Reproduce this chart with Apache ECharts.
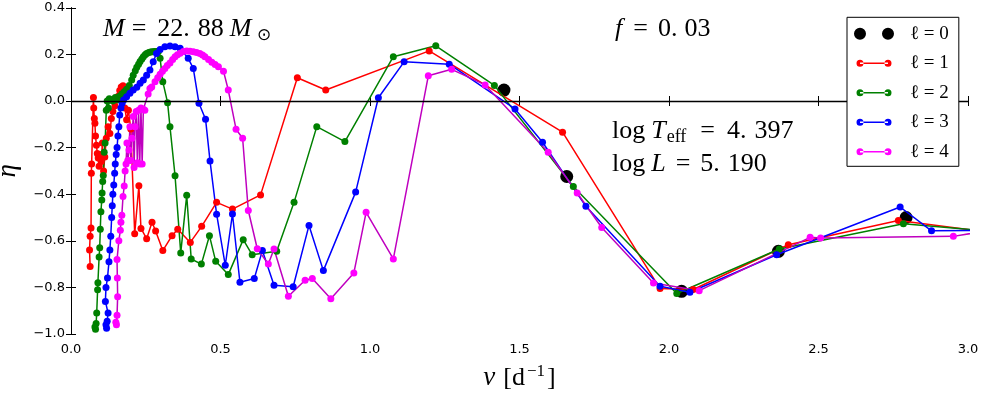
<!DOCTYPE html>
<html>
<head>
<meta charset="utf-8">
<script src="https://cdn.jsdelivr.net/npm/echarts@6/dist/echarts.min.js"></script>
<style>
html,body{margin:0;padding:0;background:#fff;}
#chart{width:981px;height:394px;}
</style>
</head>
<body>
<div id="chart"></div>
<script>
// ---- data: [nu (1/d), eta] ----
const l0 = [[1.448,0.047],[1.658,-0.324],[2.042,-0.817],[2.366,-0.645],[2.793,-0.50]];

const l1 = [[0.064,-0.71],[0.062,-0.64],[0.064,-0.58],[0.067,-0.545],[0.068,-0.31],[0.069,-0.27],[0.075,0.015],[0.076,-0.03],[0.078,-0.075],[0.080,-0.095],[0.082,-0.15],[0.085,-0.19],[0.088,-0.225],[0.091,-0.245],[0.094,-0.28],[0.097,-0.23],[0.101,-0.26],[0.105,-0.18],[0.109,-0.3],[0.113,-0.24],[0.118,-0.16],[0.124,-0.11],[0.130,-0.14],[0.135,-0.075],[0.140,-0.045],[0.147,-0.02],[0.152,0.005],[0.158,0.02],[0.163,0.045],[0.168,0.06],[0.174,0.065],[0.180,-0.03],[0.186,-0.08],[0.192,-0.04],[0.200,-0.12],[0.213,-0.57],[0.227,-0.364],[0.234,-0.547],[0.253,-0.591],[0.271,-0.52],[0.283,-0.558],[0.307,-0.642],[0.338,-0.578],[0.357,-0.55],[0.399,-0.607],[0.437,-0.538],[0.487,-0.435],[0.540,-0.464],[0.634,-0.403],[0.757,0.10],[0.852,0.047],[1.198,0.215],[1.644,-0.134],[1.970,-0.805],[2.081,-0.809],[2.399,-0.617],[2.767,-0.513],[3.05,-0.56]];

const l2 = [[0.080,-0.97],[0.082,-0.98],[0.084,-0.955],[0.086,-0.91],[0.089,-0.81],[0.090,-0.78],[0.094,-0.67],[0.096,-0.63],[0.098,-0.55],[0.100,-0.475],[0.103,-0.425],[0.104,-0.395],[0.106,-0.345],[0.108,-0.32],[0.111,-0.22],[0.114,-0.18],[0.118,-0.04],[0.121,0.0],[0.125,-0.03],[0.128,0.01],[0.133,0.005],[0.140,0.0],[0.148,0.015],[0.155,0.005],[0.162,0.02],[0.170,0.03],[0.178,0.04],[0.186,0.05],[0.195,0.066],[0.203,0.09],[0.208,0.11],[0.215,0.13],[0.220,0.145],[0.226,0.158],[0.231,0.17],[0.237,0.18],[0.242,0.19],[0.248,0.198],[0.253,0.204],[0.260,0.208],[0.266,0.21],[0.272,0.211],[0.279,0.212],[0.285,0.212],[0.292,0.211],[0.298,0.183],[0.307,0.083],[0.323,-0.007],[0.331,-0.11],[0.348,-0.321],[0.367,-0.652],[0.387,-0.405],[0.402,-0.678],[0.436,-0.70],[0.463,-0.578],[0.484,-0.688],[0.526,-0.745],[0.576,-0.595],[0.606,-0.66],[0.688,-0.645],[0.746,-0.435],[0.822,-0.11],[0.916,-0.174],[1.078,0.19],[1.220,0.237],[1.416,0.067],[1.680,-0.367],[2.026,-0.826],[2.369,-0.635],[2.784,-0.527],[3.05,-0.556]];

const l3 = [[0.117,-0.96],[0.119,-0.975],[0.121,-0.945],[0.124,-0.91],[0.115,-0.86],[0.117,-0.80],[0.122,-0.76],[0.127,-0.69],[0.130,-0.64],[0.133,-0.58],[0.136,-0.50],[0.138,-0.45],[0.140,-0.40],[0.143,-0.36],[0.146,-0.31],[0.148,-0.27],[0.151,-0.23],[0.154,-0.20],[0.157,-0.15],[0.160,-0.11],[0.163,-0.06],[0.167,-0.03],[0.171,-0.01],[0.176,0.004],[0.186,0.018],[0.197,0.033],[0.208,0.047],[0.220,0.059],[0.231,0.076],[0.242,0.09],[0.253,0.111],[0.264,0.133],[0.275,0.168],[0.286,0.204],[0.298,0.221],[0.314,0.233],[0.331,0.236],[0.348,0.233],[0.365,0.226],[0.392,0.183],[0.409,0.14],[0.428,-0.01],[0.450,-0.078],[0.465,-0.258],[0.487,-0.486],[0.516,-0.705],[0.540,-0.485],[0.565,-0.778],[0.613,-0.762],[0.640,-0.642],[0.679,-0.791],[0.743,-0.797],[0.796,-0.534],[0.844,-0.728],[0.952,-0.391],[1.028,0.014],[1.114,0.168],[1.265,0.158],[1.485,-0.034],[1.577,-0.177],[1.722,-0.452],[1.970,-0.795],[2.070,-0.821],[2.360,-0.66],[2.773,-0.455],[2.878,-0.557],[3.05,-0.555]];

const l4 = [[0.150,-0.95],[0.152,-0.96],[0.154,-0.92],[0.156,-0.84],[0.155,-0.76],[0.154,-0.68],[0.160,-0.60],[0.165,-0.555],[0.167,-0.52],[0.170,-0.49],[0.174,-0.41],[0.178,-0.365],[0.181,-0.30],[0.184,-0.27],[0.187,-0.18],[0.190,-0.255],[0.194,-0.21],[0.197,-0.11],[0.200,-0.255],[0.204,-0.16],[0.208,-0.067],[0.211,-0.285],[0.214,-0.11],[0.218,-0.045],[0.222,-0.265],[0.226,-0.04],[0.230,-0.27],[0.234,-0.03],[0.238,-0.27],[0.242,-0.035],[0.247,-0.04],[0.258,0.03],[0.264,0.054],[0.270,0.06],[0.281,0.083],[0.290,0.10],[0.298,0.115],[0.306,0.128],[0.314,0.14],[0.322,0.152],[0.331,0.163],[0.340,0.178],[0.348,0.19],[0.356,0.198],[0.365,0.205],[0.376,0.212],[0.387,0.215],[0.398,0.214],[0.409,0.211],[0.420,0.208],[0.431,0.204],[0.440,0.197],[0.448,0.19],[0.460,0.178],[0.471,0.166],[0.482,0.157],[0.493,0.147],[0.510,0.128],[0.526,0.047],[0.552,-0.121],[0.574,-0.16],[0.593,-0.47],[0.623,-0.634],[0.660,-0.70],[0.679,-0.635],[0.727,-0.838],[0.783,-0.769],[0.807,-0.762],[0.869,-0.849],[0.946,-0.738],[0.987,-0.478],[1.078,-0.678],[1.195,0.108],[1.273,0.136],[1.385,0.069],[1.596,-0.22],[1.693,-0.395],[1.775,-0.543],[1.948,-0.781],[2.101,-0.814],[2.472,-0.585],[2.507,-0.588],[2.951,-0.581],[3.05,-0.56]];

const seriesNames = ['ℓ = 0','ℓ = 1','ℓ = 2','ℓ = 3','ℓ = 4'];
const xTicks = {min: 0, max: 3, step: 0.5};
const yTicks = {min: -1, max: 0.4, step: 0.2};
const zeroLevel = 0;

// ---- styling ----
const SERIF = 'Liberation Serif';
const SANS = 'DejaVu Sans';
const smallIcon = 'path://M0,0h0.05v0.05h-0.05z M39.95,11.95h0.05v0.05h-0.05z M2.5,6a3.5,3.5 0 1,0 7,0a3.5,3.5 0 1,0 -7,0z M30.5,6a3.5,3.5 0 1,0 7,0a3.5,3.5 0 1,0 -7,0z M6,5.3h28v1.4h-28z';
const bigIcon = 'path://M0,6a6,6 0 1,0 12,0a6,6 0 1,0 -12,0z M28,6a6,6 0 1,0 12,0a6,6 0 1,0 -12,0z';

function fmt(v){ const s = Math.abs(v).toFixed(1); return (v < -1e-9 ? '\u2212' : '') + s; }

function lineSeries(name, data, lineColor, markColor){
  return {
    name, type: 'line', data,
    symbol: 'circle', symbolSize: 7, showAllSymbol: true,
    lineStyle: {color: lineColor, width: 1.5},
    itemStyle: {color: markColor, borderWidth: 0, opacity: 1},
    clip: true, silent: true
  };
}

const T = (fs, extra) => Object.assign({fontFamily: SERIF, fontSize: fs, fill: '#000', lineHeight: 30}, extra || {});

const chart = echarts.init(document.getElementById('chart'), null, {renderer: 'canvas'});
const axisCommon = {
  type: 'value',
  axisLine: {show: true, lineStyle: {color: '#000', width: 1}},
  axisTick: {show: true, inside: true, length: 5, lineStyle: {color: '#000'}},
  splitLine: {show: false}
};
const option = {
  animation: false,
  backgroundColor: '#fff',
  grid: {left: 71, right: 13, top: 7.8, bottom: 60, containLabel: false, outerBoundsMode: 'none'},
  xAxis: [
    Object.assign({}, axisCommon, {
      min: xTicks.min, max: xTicks.max, interval: xTicks.step, position: 'bottom',
      axisLabel: {formatter: fmt, fontFamily: SANS, fontSize: 13, color: '#000', margin: 9},
      name: '{i|ν}{b|[d}{s|−1}{c|]}', nameLocation: 'middle', nameGap: 29,
      nameTextStyle: {rich: {
        i: {fontFamily: SERIF, fontStyle: 'italic', fontSize: 27, color: '#000', lineHeight: 30},
        b: {fontFamily: SERIF, fontSize: 26, color: '#000', lineHeight: 30, padding: [0, 0, 0, 8]},
        s: {fontFamily: SERIF, fontSize: 17, color: '#000', lineHeight: 17, verticalAlign: 'top', padding: [0, 0, 0, 2]},
        c: {fontFamily: SERIF, fontSize: 26, color: '#000', lineHeight: 30, padding: [0, 0, 0, 2]}
      }}
    }),
    Object.assign({}, axisCommon, {
      min: xTicks.min, max: xTicks.max, interval: xTicks.step, position: 'top',
      axisLabel: {show: false}
    })
  ],
  yAxis: [
    Object.assign({}, axisCommon, {
      min: yTicks.min, max: yTicks.max, interval: yTicks.step, position: 'left',
      axisLabel: {formatter: fmt, fontFamily: SANS, fontSize: 13, color: '#000', margin: 6},
      name: 'η', nameLocation: 'middle', nameGap: 50,
      nameTextStyle: {fontFamily: SERIF, fontStyle: 'italic', fontSize: 27, color: '#000'}
    }),
    Object.assign({}, axisCommon, {
      min: yTicks.min, max: yTicks.max, interval: yTicks.step, position: 'right',
      axisLabel: {show: false}
    })
  ],
  legend: {
    orient: 'vertical', left: 847, top: 17.3, z: 10,
    padding: [7, 10, 5, 7],
    itemWidth: 40, itemHeight: 12, itemGap: 10.5,
    backgroundColor: '#fff', borderColor: '#000', borderWidth: 1, borderRadius: 0,
    symbolKeepAspect: false,
    itemStyle: {borderWidth: 0},
    textStyle: {fontFamily: SERIF, fontSize: 19, color: '#000', lineHeight: 12, padding: [0, 0, 0, 11]},
    selectedMode: false,
    data: [
      {name: seriesNames[0], icon: bigIcon},
      {name: seriesNames[1], icon: smallIcon},
      {name: seriesNames[2], icon: smallIcon},
      {name: seriesNames[3], icon: smallIcon},
      {name: seriesNames[4], icon: smallIcon}
    ]
  },
  series: [
    {
      name: seriesNames[0], type: 'scatter', data: l0,
      symbol: 'circle', symbolSize: 13,
      itemStyle: {color: '#000', borderWidth: 0, opacity: 1}, silent: true,
      markLine: {
        silent: true, symbol: ['none', 'none'], label: {show: false},
        lineStyle: {color: '#000', width: 1.3, type: 'solid', opacity: 1},
        data: [{yAxis: zeroLevel}]
      }
    },
    lineSeries(seriesNames[1], l1, '#ff0000', '#ff0000'),
    lineSeries(seriesNames[2], l2, '#008000', '#008000'),
    lineSeries(seriesNames[3], l3, '#0000ff', '#0000ff'),
    lineSeries(seriesNames[4], l4, '#bf00bf', '#ff00ff')
  ],
  graphic: [
    {type: 'text', left: 103, top: 16, z: 10, style: {
      text: '{i|M}{e|=}{r|22.}{p|88}{m|M}{s|⊙}',
      rich: {
        i: T(26, {fontStyle: 'italic'}),
        e: T(26, {padding: [0, 0, 0, 7]}),
        r: T(26, {padding: [0, 0, 0, 11]}),
        p: T(26, {padding: [0, 0, 0, 8]}),
        m: T(26, {fontStyle: 'italic', padding: [0, 0, 0, 6]}),
        s: T(17, {lineHeight: 17, verticalAlign: 'bottom', padding: [0, 0, 0, 6]})
      }}},
    {type: 'text', left: 615, top: 16, z: 10, style: {
      text: '{i|f}{e|=}{r|0.}{p|03}',
      rich: {
        i: T(26, {fontStyle: 'italic'}),
        e: T(26, {padding: [0, 0, 0, 11]}),
        r: T(26, {padding: [0, 0, 0, 10]}),
        p: T(26, {padding: [0, 0, 0, 7]})
      }}},
    {type: 'text', left: 612, top: 118, z: 10, style: {
      text: '{r|log}{i|T}{s|eff}{e|=}{a|4.}{b|397}',
      rich: {
        r: T(26),
        i: T(26, {fontStyle: 'italic', padding: [0, 0, 0, 6]}),
        s: T(18, {lineHeight: 20, verticalAlign: 'bottom', padding: [0, 0, 0, 1]}),
        e: T(26, {padding: [0, 0, 0, 14]}),
        a: T(26, {padding: [0, 0, 0, 12]}),
        b: T(26, {padding: [0, 0, 0, 8]})
      }}},
    {type: 'text', left: 612, top: 151, z: 10, style: {
      text: '{r|log}{i|L}{e|=}{a|5.}{b|190}',
      rich: {
        r: T(26),
        i: T(26, {fontStyle: 'italic', padding: [0, 0, 0, 6]}),
        e: T(26, {padding: [0, 0, 0, 10]}),
        a: T(26, {padding: [0, 0, 0, 10]}),
        b: T(26, {padding: [0, 0, 0, 8]})
      }}}
  ]
};
chart.setOption(option);
</script>
</body>
</html>
